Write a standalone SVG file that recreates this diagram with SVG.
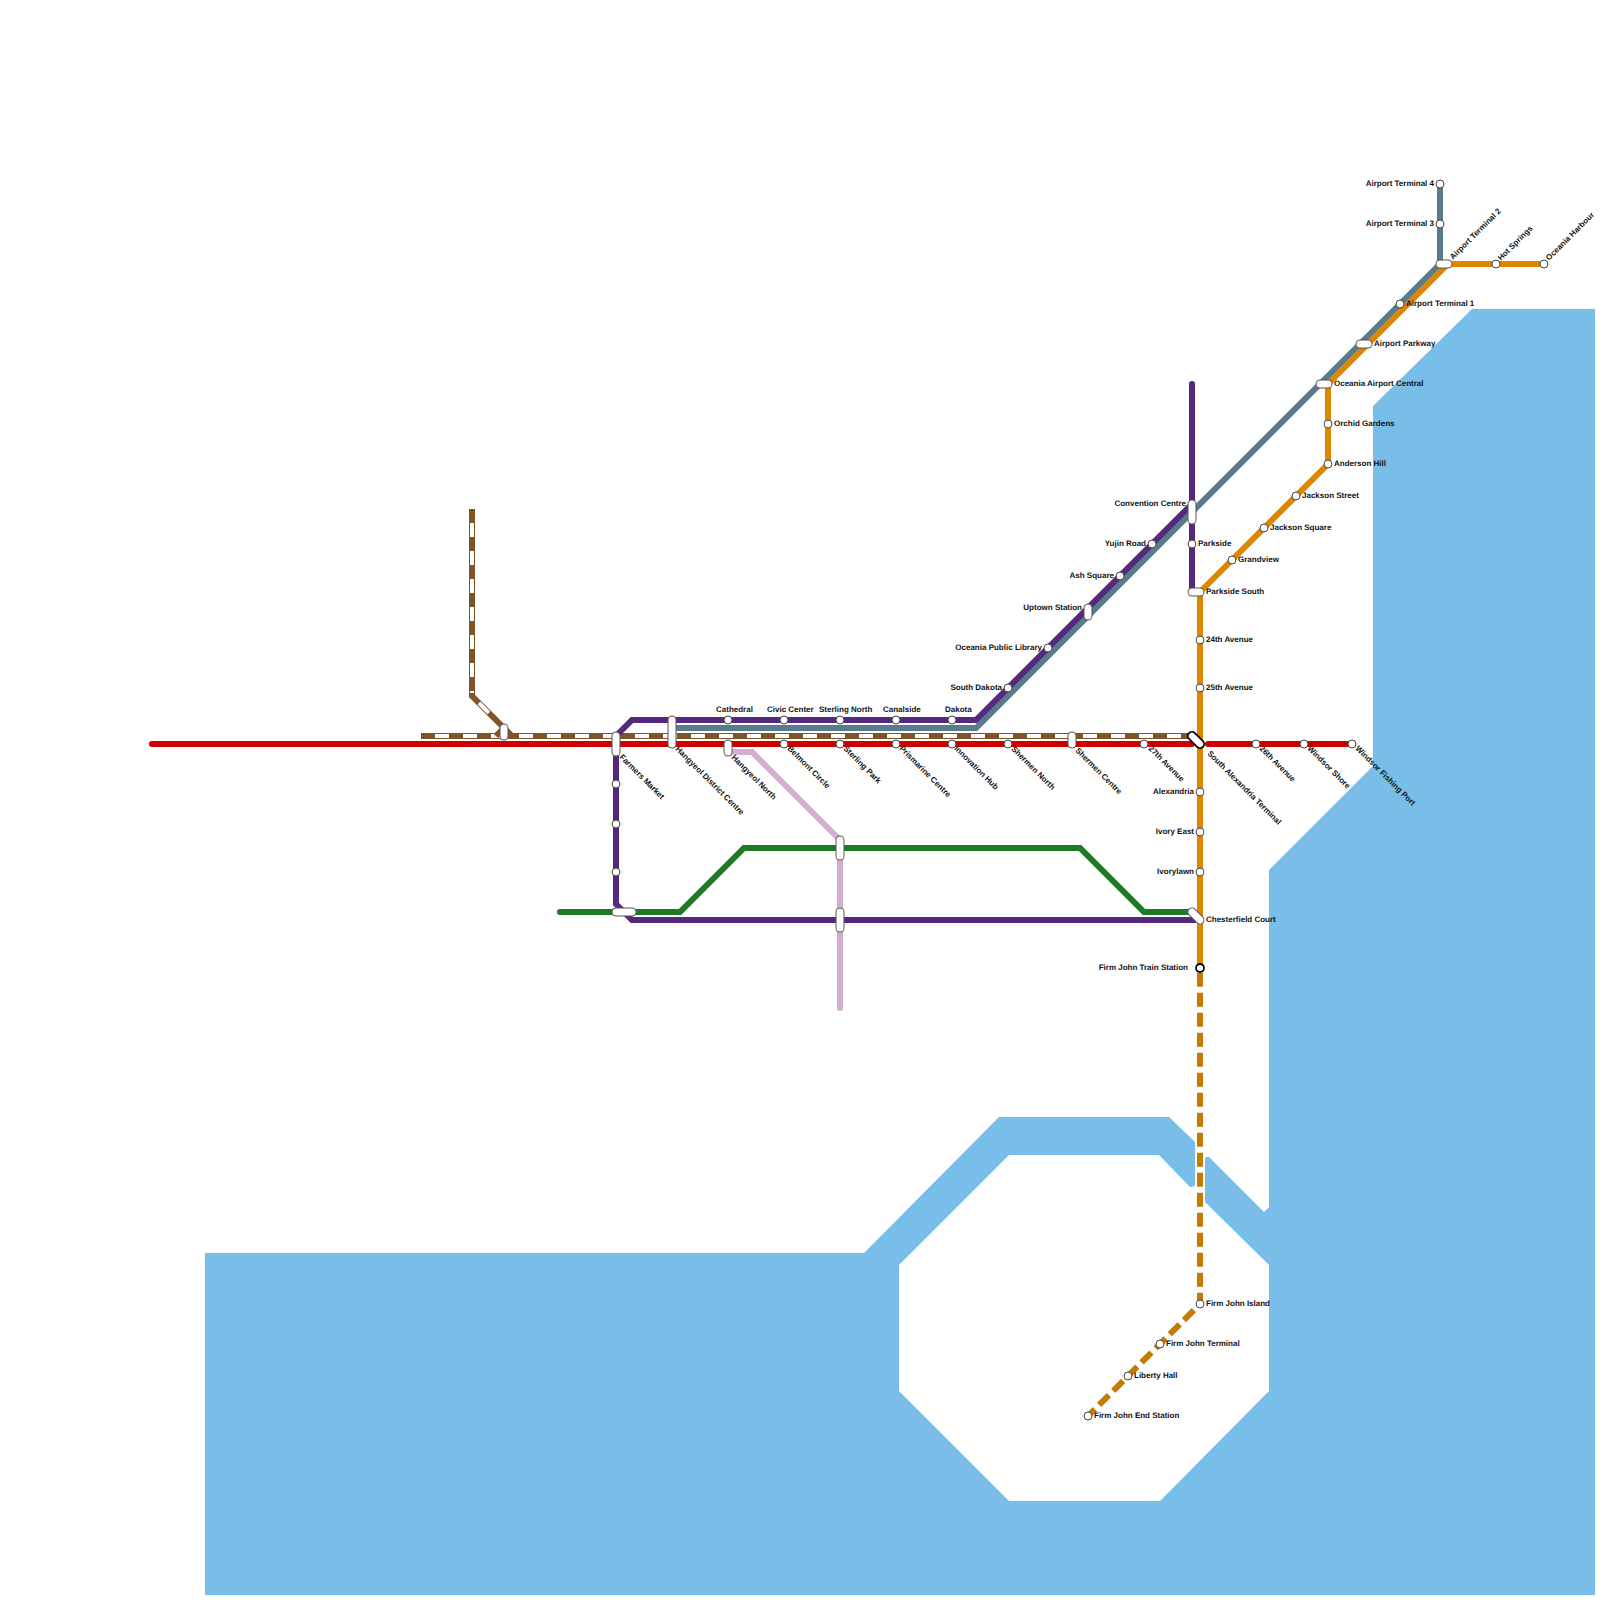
<svg xmlns="http://www.w3.org/2000/svg" width="1600" height="1600" viewBox="0 0 1600 1600">
<style>
.l{fill:none;stroke-width:6;stroke-linejoin:miter}
.r{stroke-linecap:round}
.wd{fill:none;stroke:#fff;stroke-width:4;stroke-dasharray:14 14}
.red{stroke:#cc0000}.pur{stroke:#55297d}.teal{stroke:#5a7b8c}.org{stroke:#df8600}.dor{stroke:#c77a00}.grn{stroke:#1e7a24}.pink{stroke:#d4aed2}.brn{stroke:#7f5427}
circle{fill:#fff;stroke:#444;stroke-width:1}
.cap1{fill:none;stroke:#555;stroke-width:9;stroke-linecap:round}
.cap2{fill:none;stroke:#fff;stroke-width:7;stroke-linecap:round}
.blk{stroke:#000;stroke-width:1.8}
text{font-family:"Liberation Sans",Arial,sans-serif;font-size:8px;font-weight:bold;fill:#111;text-rendering:geometricPrecision}
.e{text-anchor:end}
</style>
<path id="water" fill="#79bde9" d="M205 1253H864L999 1117H1169L1195 1142V1185L1192 1187H1190L1159 1155H1009L899 1265V1391L1009 1501H1160L1269 1391V1265L1205 1202V1159L1206 1157H1209L1264 1212L1269 1207V870L1373 766V406L1472 309H1595V1595H205Z"/>
<g id="connectors">
<path class="l r red" d="M152 744H1192"/>
<path class="l r red" d="M1208 744H1352"/>
<path class="l brn" d="M421 736H1192"/>
<path class="wd" stroke-dashoffset="14" d="M421 736H616"/>
<path class="wd" stroke-dashoffset="14" d="M621 736H1192"/>
<path class="l brn" d="M472 509V696L504 728"/>
<path class="l brn" d="M496 736L504 728L512 736"/>
<path class="wd" stroke-dashoffset="14" d="M472 509V693"/>
<path class="wd" d="M479 703L490 714"/>
<path class="l r grn" d="M560 912H680L744 848H1080L1144 912H1192"/>
<path class="l teal" d="M672 728H976L1440 264V184"/>
<path class="l pur" d="M616 736L632 720H976L1192 504"/>
<path class="l r pur" d="M1192 384V592"/>
<path class="l pur" d="M616 736V904L632 920H1196"/>
<path class="l pink" d="M728 752H752L840 840V848"/>
<path class="l r pink" d="M840 848V1008"/>
<path class="l org" d="M1200 592V968"/>
<path class="l org" d="M1200 592L1328 464V384L1448 264H1544"/>
<path class="l dor" stroke-dasharray="14 6" stroke-dashoffset="15.3" d="M1200 968V1304L1088 1416"/>
</g>
<g id="stations">
<g id="cathedral"><circle cx="728" cy="720" r="4"/><text x="716" y="711.5">Cathedral</text></g>
<g id="civic-center"><circle cx="784" cy="720" r="4"/><text x="767" y="711.5">Civic Center</text></g>
<g id="sterling-north"><circle cx="840" cy="720" r="4"/><text x="819" y="711.5">Sterling North</text></g>
<g id="canalside"><circle cx="896" cy="720" r="4"/><text x="883" y="711.5">Canalside</text></g>
<g id="dakota"><circle cx="952" cy="720" r="4"/><text x="945" y="711.5">Dakota</text></g>
<g id="farmers-market"><path class="cap1" d="M616 736V752"/><path class="cap2" d="M616 736V752"/><text transform="translate(619 757.5) rotate(45)">Farmers Market</text></g>
<g id="hangyeol-district"><path class="cap1" d="M672 720V744"/><path class="cap2" d="M672 720V744"/><text transform="translate(675 749.5) rotate(45)">Hangyeol District Centre</text></g>
<g id="hangyeol-north"><path class="cap1" d="M728 744V752"/><path class="cap2" d="M728 744V752"/><text transform="translate(731 758) rotate(45)">Hangyeol North</text></g>
<g id="belmont"><circle cx="784" cy="744" r="4"/><text transform="translate(787 749) rotate(45)">Belmont Circle</text></g>
<g id="sterling-park"><circle cx="840" cy="744" r="4"/><text transform="translate(843 749) rotate(45)">Sterling Park</text></g>
<g id="prismarine"><circle cx="896" cy="744" r="4"/><text transform="translate(899 749) rotate(45)">Prismarine Centre</text></g>
<g id="innovation"><circle cx="952" cy="744" r="4"/><text transform="translate(954 749) rotate(45)">Innovation Hub</text></g>
<g id="shermen-north"><circle cx="1008" cy="744" r="4"/><text transform="translate(1011 749.5) rotate(45)">Shermen North</text></g>
<g id="shermen-centre"><path class="cap1" d="M1072 736V744"/><path class="cap2" d="M1072 736V744"/><text transform="translate(1075 751) rotate(45)">Shermen Centre</text></g>
<g id="ave27"><circle cx="1144" cy="744" r="4"/><text transform="translate(1148 749) rotate(45)">27th Avenue</text></g>
<g id="south-alexandria"><path class="cap1" d="M1192 736L1200 744" style="stroke:#000;stroke-width:10"/><path class="cap2" d="M1192 736L1200 744" style="stroke-width:6.5"/><text transform="translate(1207 754) rotate(45)">South Alexandria Terminal</text></g>
<g id="ave26"><circle cx="1256" cy="744" r="4"/><text transform="translate(1259 749) rotate(45)">26th Avenue</text></g>
<g id="windsor-shore"><circle cx="1304" cy="744" r="4"/><text transform="translate(1307 749) rotate(45)">Windsor Shore</text></g>
<g id="windsor-port"><circle cx="1352" cy="744" r="4"/><text transform="translate(1355 749) rotate(45)">Windsor Fishing Port</text></g>
<g id="brown-junction"><path class="cap1" d="M504 728V736"/><path class="cap2" d="M504 728V736"/></g>
<g id="p1"><circle cx="616" cy="784" r="4"/></g>
<g id="p2"><circle cx="616" cy="824" r="4"/></g>
<g id="p3"><circle cx="616" cy="872" r="4"/></g>
<g id="green-west"><path class="cap1" d="M616 912H632"/><path class="cap2" d="M616 912H632"/></g>
<g id="pink-upper"><path class="cap1" d="M840 840V856"/><path class="cap2" d="M840 840V856"/></g>
<g id="pink-lower"><path class="cap1" d="M840 912V928"/><path class="cap2" d="M840 912V928"/></g>
<g id="chesterfield"><path class="cap1" d="M1192 912L1200 920"/><path class="cap2" d="M1192 912L1200 920"/><text x="1206" y="921.5">Chesterfield Court</text></g>
<g id="alexandria"><circle cx="1200" cy="792" r="4"/><text class="e" x="1194" y="793.5">Alexandria</text></g>
<g id="ivory-east"><circle cx="1200" cy="832" r="4"/><text class="e" x="1194" y="833.5">Ivory East</text></g>
<g id="ivorylawn"><circle cx="1200" cy="872" r="4"/><text class="e" x="1194" y="873.5">Ivorylawn</text></g>
<g id="train-station"><circle class="blk" cx="1200" cy="968" r="4"/><text class="e" x="1188" y="969.5">Firm John Train Station</text></g>
<g id="fj-island"><circle cx="1200" cy="1304" r="4"/><text x="1206" y="1305.5">Firm John Island</text></g>
<g id="fj-terminal"><circle cx="1160" cy="1344" r="4"/><text x="1166" y="1345.5">Firm John Terminal</text></g>
<g id="liberty"><circle cx="1128" cy="1376" r="4"/><text x="1134" y="1377.5">Liberty Hall</text></g>
<g id="fj-end"><circle cx="1088" cy="1416" r="4"/><text x="1094" y="1417.5">Firm John End Station</text></g>
<g id="ave24"><circle cx="1200" cy="640" r="4"/><text x="1206" y="641.5">24th Avenue</text></g>
<g id="ave25"><circle cx="1200" cy="688" r="4"/><text x="1206" y="689.5">25th Avenue</text></g>
<g id="parkside-south"><path class="cap1" d="M1192 592H1200"/><path class="cap2" d="M1192 592H1200"/><text x="1206" y="593.5">Parkside South</text></g>
<g id="parkside"><circle cx="1192" cy="544" r="4"/><text x="1198" y="545.5">Parkside</text></g>
<g id="convention"><path class="cap1" d="M1192 504V520"/><path class="cap2" d="M1192 504V520"/><text class="e" x="1186" y="505.5">Convention Centre</text></g>
<g id="yujin"><circle cx="1152" cy="544" r="4"/><text class="e" x="1146" y="545.5">Yujin Road</text></g>
<g id="ash"><circle cx="1120" cy="576" r="4"/><text class="e" x="1114" y="577.5">Ash Square</text></g>
<g id="uptown"><path class="cap1" d="M1088 608V616"/><path class="cap2" d="M1088 608V616"/><text class="e" x="1082" y="609.5">Uptown Station</text></g>
<g id="library"><circle cx="1048" cy="648" r="4"/><text class="e" x="1042" y="649.5">Oceania Public Library</text></g>
<g id="south-dakota"><circle cx="1008" cy="688" r="4"/><text class="e" x="1002" y="689.5">South Dakota</text></g>
<g id="grandview"><circle cx="1232" cy="560" r="4"/><text x="1238" y="561.5">Grandview</text></g>
<g id="jackson-square"><circle cx="1264" cy="528" r="4"/><text x="1270" y="529.5">Jackson Square</text></g>
<g id="jackson-street"><circle cx="1296" cy="496" r="4"/><text x="1302" y="497.5">Jackson Street</text></g>
<g id="anderson"><circle cx="1328" cy="464" r="4"/><text x="1334" y="465.5">Anderson Hill</text></g>
<g id="orchid"><circle cx="1328" cy="424" r="4"/><text x="1334" y="425.5">Orchid Gardens</text></g>
<g id="airport-central"><path class="cap1" d="M1320 384H1328"/><path class="cap2" d="M1320 384H1328"/><text x="1334" y="385.5">Oceania Airport Central</text></g>
<g id="airport-parkway"><path class="cap1" d="M1360 344H1368"/><path class="cap2" d="M1360 344H1368"/><text x="1374" y="345.5">Airport Parkway</text></g>
<g id="t1"><circle cx="1400" cy="304" r="4"/><text x="1406" y="305.5">Airport Terminal 1</text></g>
<g id="t2"><path class="cap1" d="M1440 264H1448"/><path class="cap2" d="M1440 264H1448"/><text transform="translate(1453 260) rotate(-45)">Airport Terminal 2</text></g>
<g id="t3"><circle cx="1440" cy="224" r="4"/><text class="e" x="1434" y="225.5">Airport Terminal 3</text></g>
<g id="t4"><circle cx="1440" cy="184" r="4"/><text class="e" x="1434" y="185.5">Airport Terminal 4</text></g>
<g id="hot-springs"><circle cx="1496" cy="264" r="4"/><text transform="translate(1501 261) rotate(-45)">Hot Springs</text></g>
<g id="harbour"><circle cx="1544" cy="264" r="4"/><text transform="translate(1549 261) rotate(-45)">Oceania Harbour</text></g>
</g>
</svg>
